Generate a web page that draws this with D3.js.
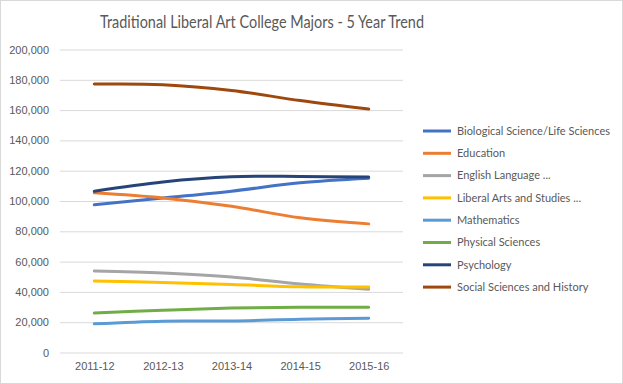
<!DOCTYPE html>
<html>
<head>
<meta charset="utf-8">
<script src="https://cdn.jsdelivr.net/npm/d3@7"></script>
<style>
  body { margin: 0; background: #fff; }
  svg { font-family: Lato, "Open Sans", sans-serif; }
  .grid line { stroke: #d9d9d9; stroke-width: 1; }
  .tick text { fill: #595959; font-size: 11px; }
  .legend text { fill: #595959; font-size: 11px; }
</style>
</head>
<body>
<script>
let years = ["2011-12", "2012-13", "2013-14", "2014-15", "2015-16"];

let majors = [
  "Biological Science/Life Sciences",
  "Education",
  "English Language ...",
  "Liberal Arts and Studies ...",
  "Mathematics",
  "Physical Sciences",
  "Psychology",
  "Social Sciences and History"
];

let biology     = [97500, 102000, 106500, 112000, 115000];
let education   = [105400, 102000, 96500, 88900, 84900];
let english     = [53800, 52400, 49800, 45200, 41800];
let liberalArts = [47200, 46200, 44900, 43400, 43200];
let mathematics = [18900, 20700, 20800, 22000, 22600];
let physical    = [26000, 27900, 29300, 29900, 29900];
let psychology  = [106500, 112600, 116000, 116200, 115800];
let social      = [177200, 176800, 173000, 166300, 160700];

let series = [biology, education, english, liberalArts, mathematics, physical, psychology, social];

let colors = ["#4472c4", "#ed7d31", "#a5a5a5", "#ffc000", "#5b9bd5", "#70ad47", "#264478", "#9e480e"];

let width = 623, height = 384;
let plot = {left: 60, right: 403, top: 49.5, bottom: 352.5};

let svg = d3.select("body").append("svg")
    .attr("width", width)
    .attr("height", height);

svg.append("rect")
    .attr("x", 0.5).attr("y", 0.5)
    .attr("width", width - 1).attr("height", height - 1)
    .attr("fill", "#fff")
    .attr("stroke", "#d9d9d9");

svg.append("text")
    .attr("x", 262)
    .attr("y", 28)
    .attr("text-anchor", "middle")
    .attr("fill", "#595959")
    .attr("textLength", 324)
    .attr("lengthAdjust", "spacingAndGlyphs")
    .style("font-size", "16.5px")
    .text("Traditional Liberal Art College Majors - 5 Year Trend");

let xScale = d3.scalePoint()
    .domain(years)
    .range([plot.left, plot.right])
    .padding(0.5);

let yScale = d3.scaleLinear()
    .domain([0, 200000])
    .range([plot.bottom, plot.top]);

// gridlines + y labels
let yAxis = d3.axisLeft(yScale)
    .tickValues(d3.range(0, 200001, 20000))
    .tickFormat(d3.format(","))
    .tickSize(-(plot.right - plot.left))
    .tickPadding(11);

svg.append("g")
    .attr("class", "grid")
    .attr("transform", `translate(${plot.left}, 0)`)
    .call(yAxis)
    .call(g => g.select(".domain").remove());

let xAxis = d3.axisBottom(xScale)
    .tickSize(0)
    .tickPadding(10);

svg.append("g")
    .attr("class", "xaxis")
    .attr("transform", `translate(0, ${plot.bottom})`)
    .call(xAxis)
    .call(g => g.select(".domain").remove());

let line = d3.line()
    .x((v, i) => xScale(years[i]))
    .y(v => yScale(v))
    .curve(d3.curveCatmullRom.alpha(0.5));

svg.append("g")
  .selectAll("path")
  .data(series)
  .enter()
    .append("path")
    .attr("d", line)
    .attr("fill", "none")
    .attr("stroke", (d, i) => colors[i])
    .attr("stroke-width", 3)
    .attr("stroke-linecap", "round");

// legend
let legend = svg.append("g")
    .attr("class", "legend")
    .attr("transform", "translate(423, 131)");

let rows = legend.selectAll("g")
    .data(majors)
    .enter()
      .append("g")
      .attr("transform", (d, i) => `translate(0, ${i * 22.3})`);

rows.append("line")
    .attr("x1", 0).attr("x2", 28)
    .attr("stroke", (d, i) => colors[i])
    .attr("stroke-width", 3);

rows.append("text")
    .attr("x", 34)
    .attr("dy", "0.35em")
    .text(d => d);
</script>
</body>
</html>
